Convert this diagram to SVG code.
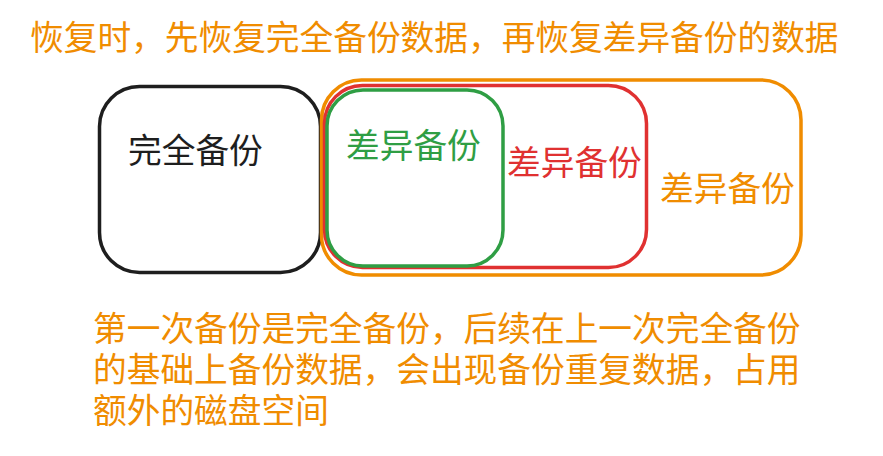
<svg xmlns="http://www.w3.org/2000/svg" width="883" height="456" viewBox="0 0 883 456">
<style>
text{font-family:"Noto Sans CJK SC","Noto Sans",sans-serif;font-size:33.7px}
.box{fill:none;stroke-width:3.5;stroke-linecap:round;stroke-linejoin:round}
.orange{fill:#f08c00}
</style>
<rect width="883" height="456" fill="#ffffff"/>
<g id="title"><text class="orange" x="30" y="50">恢复时，先恢复完全备份数据，再恢复差异备份的数据</text></g>
<g id="full-backup">
<rect class="box" x="99.5" y="86.5" width="221" height="186" rx="40" stroke="#1e1e1e" stroke-width="4"/>
<text x="128" y="163" fill="#1e1e1e" font-size="33">完全备份</text>
</g>
<g id="diff-backup-3">
<rect class="box" x="321.5" y="80" width="479.5" height="195" rx="40" stroke="#f08c00"/>
<text x="660" y="201" class="orange">差异备份</text>
</g>
<g id="diff-backup-2">
<rect class="box" x="324.5" y="85.5" width="322" height="182" rx="38" stroke="#e03131"/>
<text x="507" y="175" fill="#e03131">差异备份</text>
</g>
<g id="diff-backup-1">
<rect class="box" x="327" y="90" width="176" height="176" rx="36" stroke="#2f9e44"/>
<text x="346" y="158" fill="#2f9e44">差异备份</text>
</g>
<g id="note">
<text class="orange" x="93" y="341">第一次备份是完全备份，后续在上一次完全备份<tspan x="93" dy="41">的基础上备份数据，会出现备份重复数据，占用</tspan><tspan x="93" dy="41">额外的磁盘空间</tspan></text>
</g>
<g id="connectors"></g>
</svg>
